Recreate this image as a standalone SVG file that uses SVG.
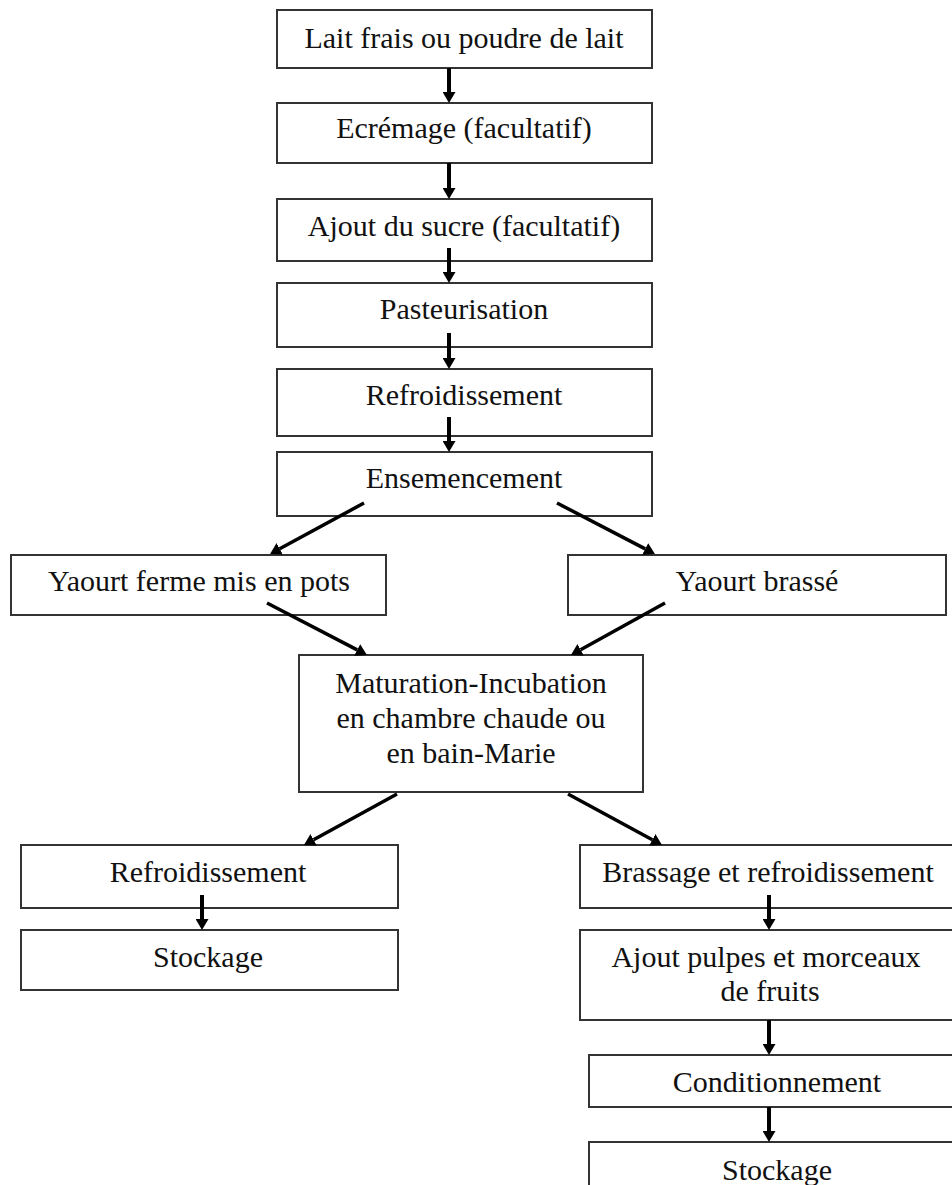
<svg xmlns="http://www.w3.org/2000/svg" width="952" height="1185" viewBox="0 0 952 1185">
<style>
.b{fill:#fff;stroke:#333;stroke-width:2}
.t{font-family:"Liberation Serif","Times New Roman",serif;font-size:30px;fill:#111;text-anchor:middle}
.a{stroke:#000;stroke-width:4;fill:none;marker-end:url(#h)}
.d{stroke:#000;stroke-width:3.5;fill:none;marker-end:url(#h)}
</style>
<defs>
<marker id="h" viewBox="0 0 11 13" refX="0" refY="6.5" markerWidth="11" markerHeight="13" markerUnits="userSpaceOnUse" orient="auto">
<path d="M0,0 L11,6.5 L0,13 z" fill="#000"/>
</marker>
</defs>
<rect width="952" height="1185" fill="#fff"/>
<g id="n1"><rect class="b" x="277" y="10" width="375" height="58"/><text class="t" x="464" y="48">Lait frais ou poudre de lait</text></g>
<g id="n2"><rect class="b" x="277" y="103" width="375" height="60"/><text class="t" x="464" y="138">Ecrémage (facultatif)</text></g>
<g id="n3"><rect class="b" x="277" y="199" width="375" height="62"/><text class="t" x="464" y="236">Ajout du sucre (facultatif)</text></g>
<g id="n4"><rect class="b" x="277" y="283" width="375" height="64"/><text class="t" x="464" y="319">Pasteurisation</text></g>
<g id="n5"><rect class="b" x="277" y="369" width="375" height="67"/><text class="t" x="464" y="405">Refroidissement</text></g>
<g id="n6"><rect class="b" x="277" y="452" width="375" height="64"/><text class="t" x="464" y="488">Ensemencement</text></g>
<g id="n7"><rect class="b" x="11" y="555" width="375" height="60"/><text class="t" x="199" y="591">Yaourt ferme mis en pots</text></g>
<g id="n8"><rect class="b" x="568" y="555" width="378" height="60"/><text class="t" x="757" y="591">Yaourt brassé</text></g>
<g id="n9"><rect class="b" x="299" y="655" width="344" height="137"/><text class="t" x="471" y="693">Maturation-Incubation</text><text class="t" x="471" y="728">en chambre chaude ou</text><text class="t" x="471" y="763">en bain-Marie</text></g>
<g id="n10"><rect class="b" x="21" y="845" width="377" height="63"/><text class="t" x="208" y="882">Refroidissement</text></g>
<g id="n11"><rect class="b" x="21" y="930" width="377" height="60"/><text class="t" x="208" y="967">Stockage</text></g>
<g id="n12"><rect class="b" x="580" y="845" width="385" height="63"/><text class="t" x="768" y="882">Brassage et refroidissement</text></g>
<g id="n13"><rect class="b" x="580" y="930" width="385" height="90"/><text class="t" x="766" y="967">Ajout pulpes et morceaux</text><text class="t" x="770" y="1001">de fruits</text></g>
<g id="n14"><rect class="b" x="589" y="1055" width="380" height="52"/><text class="t" x="777" y="1092">Conditionnement</text></g>
<g id="n15"><rect class="b" x="589" y="1142" width="380" height="60"/><text class="t" x="777" y="1180">Stockage</text></g>
<g id="connectors">
<line class="a" x1="449" y1="68" x2="449" y2="92"/>
<line class="a" x1="449" y1="163" x2="449" y2="188"/>
<line class="a" x1="449" y1="248" x2="449" y2="272"/>
<line class="a" x1="449" y1="333" x2="449" y2="358"/>
<line class="a" x1="449" y1="417" x2="449" y2="441"/>
<line class="d" x1="364" y1="503" x2="279.7" y2="548.8"/>
<line class="d" x1="557" y1="503" x2="645.2" y2="548.9"/>
<line class="d" x1="267" y1="603" x2="357.2" y2="649.9"/>
<line class="d" x1="665" y1="603" x2="580.6" y2="649.7"/>
<line class="d" x1="397" y1="794" x2="313.6" y2="839.7"/>
<line class="d" x1="568" y1="794" x2="652.3" y2="839.8"/>
<line class="a" x1="202" y1="895" x2="202" y2="919"/>
<line class="a" x1="769" y1="895" x2="769" y2="919"/>
<line class="a" x1="769" y1="1020" x2="769" y2="1044"/>
<line class="a" x1="769" y1="1107" x2="769" y2="1131"/>
</g>
</svg>
